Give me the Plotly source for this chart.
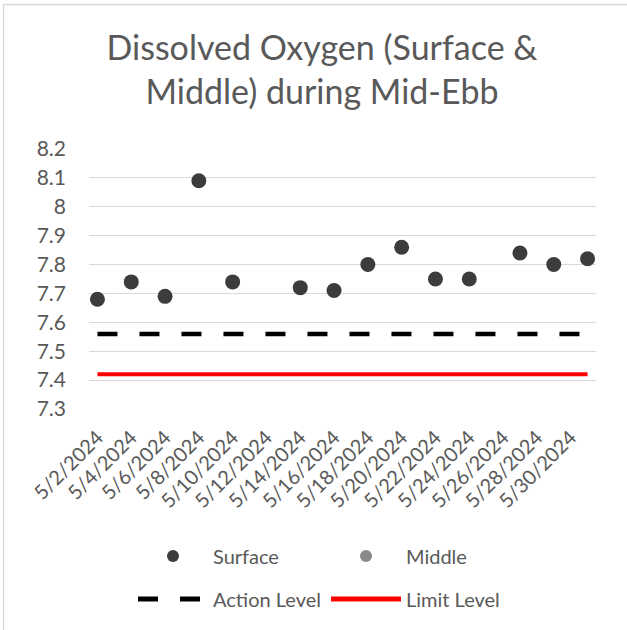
import plotly.graph_objects as go
from datetime import datetime, timedelta

# ---- data ----
surface_dates = ["2024-05-02", "2024-05-04", "2024-05-06", "2024-05-08", "2024-05-10",
                 "2024-05-14", "2024-05-16", "2024-05-18", "2024-05-20", "2024-05-22",
                 "2024-05-24", "2024-05-27", "2024-05-29", "2024-05-31"]
surface_values = [7.68, 7.74, 7.69, 8.09, 7.74, 7.72, 7.71, 7.80, 7.86, 7.75,
                  7.75, 7.84, 7.80, 7.82]
# Middle series has no readings plotted in this period
middle_dates = ["2024-05-02"]
middle_values = [None]
action_level = 7.56
limit_level = 7.42
x_tick_labels = ["5/2/2024", "5/4/2024", "5/6/2024", "5/8/2024", "5/10/2024",
                 "5/12/2024", "5/14/2024", "5/16/2024", "5/18/2024", "5/20/2024",
                 "5/22/2024", "5/24/2024", "5/26/2024", "5/28/2024", "5/30/2024"]
y_tick_values = [7.3, 7.4, 7.5, 7.6, 7.7, 7.8, 7.9, 8.0, 8.1, 8.2]
y_tick_labels = ["7.3", "7.4", "7.5", "7.6", "7.7", "7.8", "7.9", "8", "8.1", "8.2"]

FONT = "Lato"
TXT = "#595959"

x_tick_vals = [datetime.strptime(s, "%m/%d/%Y") for s in x_tick_labels]
first = datetime.strptime(surface_dates[0], "%Y-%m-%d")
last = datetime.strptime(surface_dates[-1], "%Y-%m-%d")
half = timedelta(hours=12)

fig = go.Figure()
fig.add_trace(go.Scatter(
    x=surface_dates, y=surface_values, mode="markers", name="Surface",
    marker=dict(color="#3c3c3c", size=15), legend="legend"))
fig.add_trace(go.Scatter(
    x=middle_dates, y=middle_values, mode="markers", name="Middle",
    marker=dict(color="#898989", size=15), legend="legend", showlegend=True))
fig.add_trace(go.Scatter(
    x=[surface_dates[0], surface_dates[-1]], y=[action_level, action_level],
    mode="lines", name="Action Level",
    line=dict(color="black", width=4.5, dash="20px,22px"), legend="legend2"))
fig.add_trace(go.Scatter(
    x=[surface_dates[0], surface_dates[-1]], y=[limit_level, limit_level],
    mode="lines", name="Limit Level",
    line=dict(color="#ff0000", width=4), legend="legend2"))

legend_common = dict(
    orientation="h", xref="container", yref="container",
    xanchor="left", yanchor="middle", font=dict(family=FONT, size=20, color=TXT),
    itemwidth=70, entrywidth=108, entrywidthmode="pixels",
    bgcolor="rgba(0,0,0,0)", itemsizing="constant", traceorder="normal")

fig.update_layout(
    width=627, height=630,
    margin=dict(l=89, r=31, t=149, b=221),
    paper_bgcolor="white", plot_bgcolor="white",
    title=dict(text="Dissolved Oxygen (Surface &<br>Middle) during Mid-Ebb",
               x=322 / 627, xref="container", xanchor="center",
               y=1 - 60 / 630, yref="container", yanchor="middle",
               font=dict(family=FONT, size=34, color=TXT)),
    font=dict(family=FONT, color=TXT),
    xaxis=dict(type="date",
               range=[first - half, last + half],
               tickmode="array", tickvals=x_tick_vals, ticktext=x_tick_labels,
               tickangle=-45, tickfont=dict(family=FONT, size=20, color=TXT),
               showgrid=False, zeroline=False, showline=False, ticks="",
               ticklabelstandoff=12),
    yaxis=dict(range=[7.3, 8.2], tickmode="array", tickvals=y_tick_values,
               ticktext=y_tick_labels,
               tickfont=dict(family=FONT, size=21, color=TXT),
               showgrid=True, gridcolor="#d9d9d9", gridwidth=1.3,
               zeroline=False, showline=False, ticks="", ticklabelstandoff=22),
    legend=dict(x=133 / 627, y=1 - 556 / 630, **legend_common),
    legend2=dict(x=133 / 627, y=1 - 599 / 630, **legend_common),
    showlegend=True,
)

# chart-area border (top-left visible in the crop)
fig.add_shape(type="rect", xref="paper", yref="paper",
              x0=(3.5 - 89) / 507, x1=(660 - 89) / 507,
              y0=(409 - 660) / 260, y1=(409 - 4.5) / 260,
              line=dict(color="#d9d9d9", width=1.3), fillcolor="rgba(0,0,0,0)",
              layer="below")

fig.write_html("out.html", config={"displayModeBar": False},
               post_script="document.body.style.margin='0';")
